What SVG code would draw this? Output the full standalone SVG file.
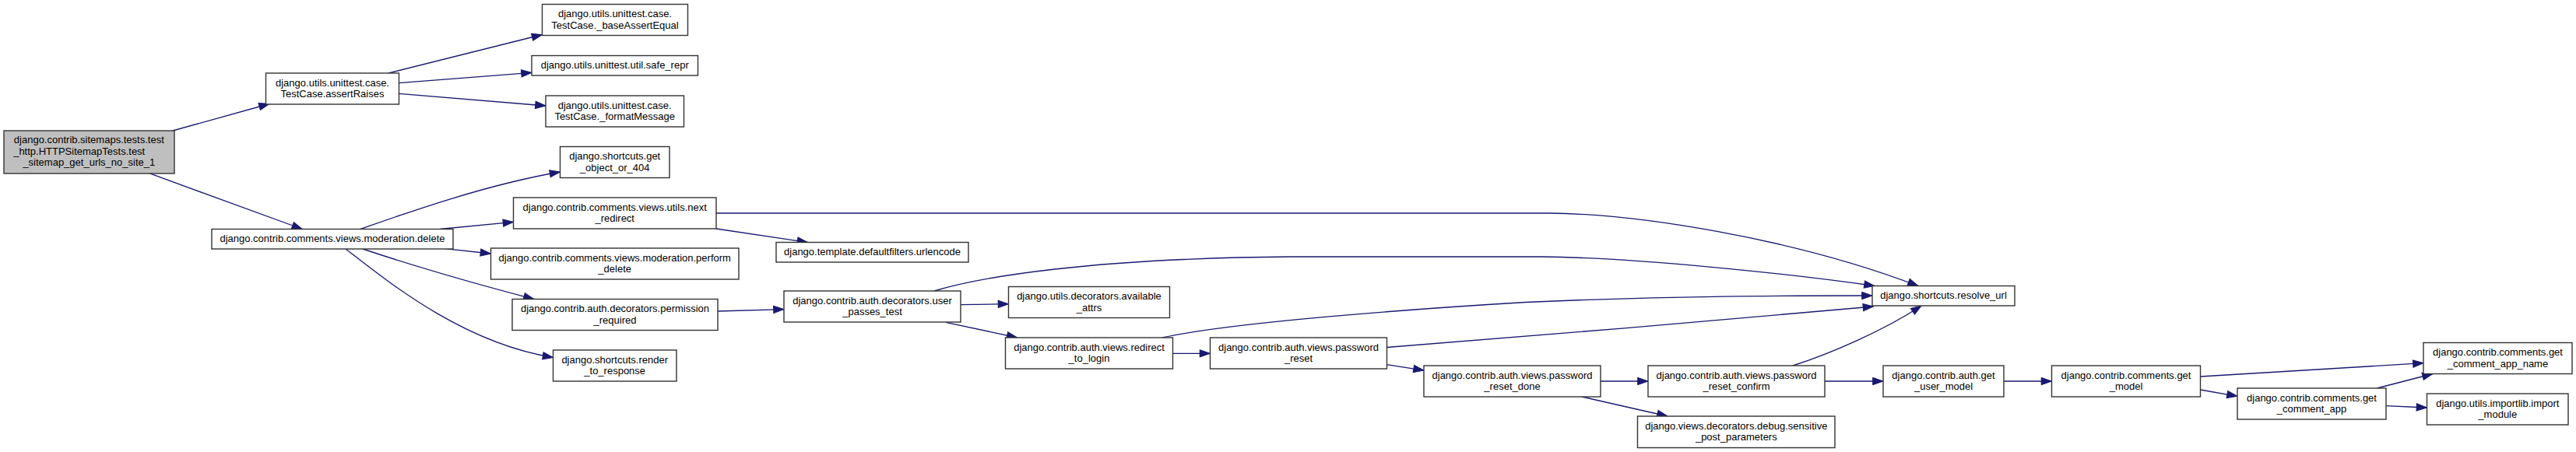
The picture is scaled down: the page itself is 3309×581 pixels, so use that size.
<svg xmlns="http://www.w3.org/2000/svg" width="3309" height="581" viewBox="0 0 3309 581">
<style>
.node rect{fill:#ffffff;stroke:#333333;stroke-width:1.4}
#n_root rect{fill:#bfbfbf}
.node text{font-family:"Liberation Sans",Arial,Helvetica,sans-serif;font-size:13px;fill:#000000;text-anchor:middle}
.edge{fill:none;stroke:#191970;stroke-width:1.33;marker-end:url(#arrow)}
</style>
<defs>
<marker id="arrow" markerUnits="userSpaceOnUse" markerWidth="15" markerHeight="11" refX="13.3" refY="4.65" orient="auto" overflow="visible">
<path d="M0,0 L13.3,4.65 L0,9.3 Z" fill="#191970" stroke="#191970" stroke-width="1"/>
</marker>
</defs>
<rect x="0" y="0" width="3309" height="581" fill="#ffffff"/>
<g id="edges">
<path class="edge" d="M222,168 L346,133.5"/>
<path class="edge" d="M191.7,222.7 L388.3,294.5"/>
<path class="edge" d="M499,94 L696.5,44.5"/>
<path class="edge" d="M512.5,106.7 L683,93.4"/>
<path class="edge" d="M512.5,120.4 L701,136"/>
<path class="edge" d="M463,294.5 C510,278 620,238 719.5,221"/>
<path class="edge" d="M565,294.5 L659.5,285.3"/>
<path class="edge" d="M571.4,319.7 L630.5,326"/>
<path class="edge" d="M466,320 C520,338 600,362 686,384.5"/>
<path class="edge" d="M444,320 C490,355 590,440 710.5,459.4"/>
<path class="edge" d="M920,294 L1037.5,311.5"/>
<path class="edge" d="M920,274 L1990,274 C2100,275 2300,305 2464,367.5"/>
<path class="edge" d="M922,400 L1007,397.6"/>
<path class="edge" d="M1200,374 C1260,356 1400,332 1660,330 L1980,330 C2100,331 2300,352 2408,367.5"/>
<path class="edge" d="M1234,391.7 L1295.5,390.7"/>
<path class="edge" d="M1215,414.3 L1306.7,434"/>
<path class="edge" d="M1506.5,454.3 L1554.5,454.3"/>
<path class="edge" d="M1493,434 C1580,415 1800,398 1960,388.5 C2150,380 2300,380 2405,380"/>
<path class="edge" d="M1781.5,446.5 C1950,434 2250,408 2406.5,394"/>
<path class="edge" d="M1781.5,468.7 L1829,476.1"/>
<path class="edge" d="M2056,490 L2117,490"/>
<path class="edge" d="M2032,510 L2142,535"/>
<path class="edge" d="M2303,470 C2350,455 2420,425 2468,393"/>
<path class="edge" d="M2344,490 L2419,490"/>
<path class="edge" d="M2574,490 L2635.5,490"/>
<path class="edge" d="M2826.5,484 L3113,466.7"/>
<path class="edge" d="M2826.5,501 L2874,509.3"/>
<path class="edge" d="M3053.3,499 L3125,480.5"/>
<path class="edge" d="M3065,521.7 L3117.5,524"/>
</g>
<g id="n_root" class="node">
<rect x="5" y="168" width="219" height="55"/>
<text x="114.3" y="184">django.contrib.sitemaps.tests.test</text>
<text x="101.7" y="198.5">_http.HTTPSitemapTests.test</text>
<text x="114.3" y="213">_sitemap_get_urls_no_site_1</text>
</g>
<g id="n_assertRaises" class="node">
<rect x="341.5" y="94" width="171" height="40"/>
<text x="427" y="110.5">django.utils.unittest.case.</text>
<text x="427" y="125">TestCase.assertRaises</text>
</g>
<g id="n_delete" class="node">
<rect x="272" y="294.5" width="310" height="25.5"/>
<text x="427" y="311.3">django.contrib.comments.views.moderation.delete</text>
</g>
<g id="n_baseAssertEqual" class="node">
<rect x="696.5" y="5.5" width="187" height="40"/>
<text x="790" y="22">django.utils.unittest.case.</text>
<text x="790" y="36.5">TestCase._baseAssertEqual</text>
</g>
<g id="n_safe_repr" class="node">
<rect x="683" y="71.5" width="213.5" height="25.5"/>
<text x="789.7" y="88.3">django.utils.unittest.util.safe_repr</text>
</g>
<g id="n_formatMessage" class="node">
<rect x="701" y="123" width="177.5" height="40"/>
<text x="789.7" y="139.5">django.utils.unittest.case.</text>
<text x="789.7" y="154">TestCase._formatMessage</text>
</g>
<g id="n_get_object_or_404" class="node">
<rect x="719.5" y="188.5" width="140.5" height="40"/>
<text x="789.7" y="205">django.shortcuts.get</text>
<text x="789.7" y="219.5">_object_or_404</text>
</g>
<g id="n_next_redirect" class="node">
<rect x="659.5" y="254" width="260.5" height="40"/>
<text x="789.7" y="270.5">django.contrib.comments.views.utils.next</text>
<text x="789.7" y="285">_redirect</text>
</g>
<g id="n_perform_delete" class="node">
<rect x="630.5" y="319" width="318.5" height="40"/>
<text x="789.7" y="335.5">django.contrib.comments.views.moderation.perform</text>
<text x="789.7" y="350">_delete</text>
</g>
<g id="n_permission_required" class="node">
<rect x="658" y="384.5" width="264" height="40"/>
<text x="790" y="401">django.contrib.auth.decorators.permission</text>
<text x="790" y="415.5">_required</text>
</g>
<g id="n_render_to_response" class="node">
<rect x="710.5" y="450" width="158.5" height="40"/>
<text x="789.7" y="466.5">django.shortcuts.render</text>
<text x="789.7" y="481">_to_response</text>
</g>
<g id="n_urlencode" class="node">
<rect x="997" y="311.5" width="247" height="25.5"/>
<text x="1120.5" y="328.3">django.template.defaultfilters.urlencode</text>
</g>
<g id="n_user_passes_test" class="node">
<rect x="1007" y="374" width="227" height="40"/>
<text x="1120.5" y="390.5">django.contrib.auth.decorators.user</text>
<text x="1120.5" y="405">_passes_test</text>
</g>
<g id="n_available_attrs" class="node">
<rect x="1295.5" y="368.5" width="207" height="40"/>
<text x="1399" y="385">django.utils.decorators.available</text>
<text x="1399" y="399.5">_attrs</text>
</g>
<g id="n_redirect_to_login" class="node">
<rect x="1291.5" y="434" width="215" height="40"/>
<text x="1399" y="450.5">django.contrib.auth.views.redirect</text>
<text x="1399" y="465">_to_login</text>
</g>
<g id="n_password_reset" class="node">
<rect x="1554.5" y="434" width="227" height="40"/>
<text x="1668" y="450.5">django.contrib.auth.views.password</text>
<text x="1668" y="465">_reset</text>
</g>
<g id="n_password_reset_done" class="node">
<rect x="1829" y="470" width="227" height="40"/>
<text x="1942.5" y="486.5">django.contrib.auth.views.password</text>
<text x="1942.5" y="501">_reset_done</text>
</g>
<g id="n_password_reset_confirm" class="node">
<rect x="2117" y="470" width="227" height="40"/>
<text x="2230.5" y="486.5">django.contrib.auth.views.password</text>
<text x="2230.5" y="501">_reset_confirm</text>
</g>
<g id="n_sensitive_post_parameters" class="node">
<rect x="2103.5" y="535" width="253.5" height="40.5"/>
<text x="2230.3" y="551.5">django.views.decorators.debug.sensitive</text>
<text x="2230.3" y="566">_post_parameters</text>
</g>
<g id="n_resolve_url" class="node">
<rect x="2405" y="367.5" width="183" height="25.5"/>
<text x="2496.5" y="384.3">django.shortcuts.resolve_url</text>
</g>
<g id="n_get_user_model" class="node">
<rect x="2419" y="470" width="155" height="40"/>
<text x="2496.5" y="486.5">django.contrib.auth.get</text>
<text x="2496.5" y="501">_user_model</text>
</g>
<g id="n_get_model" class="node">
<rect x="2635.5" y="470" width="191" height="40"/>
<text x="2731" y="486.5">django.contrib.comments.get</text>
<text x="2731" y="501">_model</text>
</g>
<g id="n_get_comment_app_name" class="node">
<rect x="3113" y="440.5" width="191" height="40"/>
<text x="3208.5" y="457">django.contrib.comments.get</text>
<text x="3208.5" y="471.5">_comment_app_name</text>
</g>
<g id="n_get_comment_app" class="node">
<rect x="2874" y="499" width="191" height="40"/>
<text x="2969.5" y="515.5">django.contrib.comments.get</text>
<text x="2969.5" y="530">_comment_app</text>
</g>
<g id="n_import_module" class="node">
<rect x="3117.5" y="506" width="181.5" height="40"/>
<text x="3208.3" y="522.5">django.utils.importlib.import</text>
<text x="3208.3" y="537">_module</text>
</g>
</svg>
